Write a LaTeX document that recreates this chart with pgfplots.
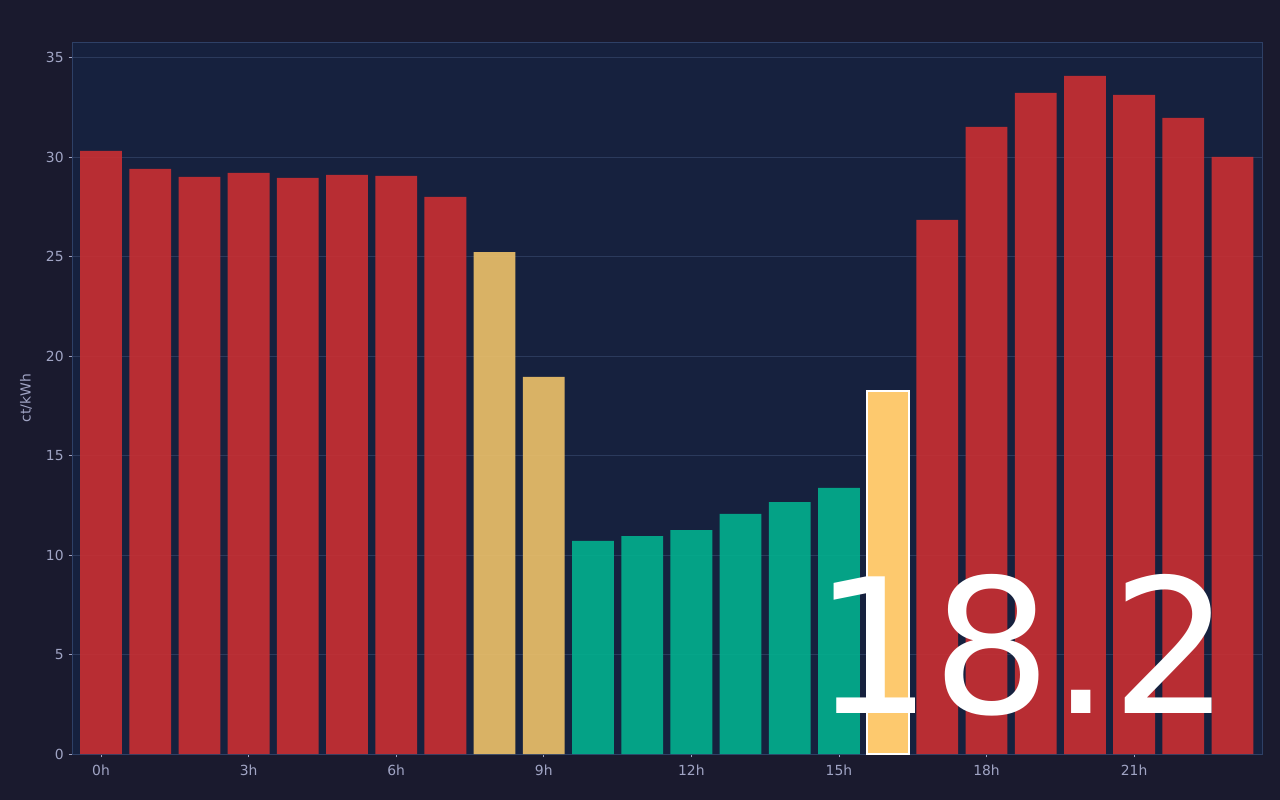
\documentclass[border=0pt]{standalone}
\usepackage{pgfplots}
\pgfplotsset{compat=1.18}
\usepackage{fontspec}
\setmainfont{DejaVu Sans}
\definecolor{outerbg}{HTML}{1A1A2E}
\definecolor{axbg}{HTML}{16213E}
\definecolor{spine}{HTML}{2E4066}
\definecolor{gridc}{HTML}{2B3A5C}
\definecolor{tickc}{HTML}{A0A4C4}
\definecolor{redb}{HTML}{CA2F32}
\definecolor{tealb}{HTML}{03B18E}
\definecolor{goldb}{HTML}{EFC26A}
\definecolor{hib}{HTML}{FDC96E}
\begin{document}
\begin{tikzpicture}
\fill[outerbg] (-51.84bp,-33.12bp) rectangle (869.76bp,542.88bp);
\begin{axis}[
  at={(0,0)}, anchor=south west,
  scale only axis, width=856.8bp, height=512.64bp,
  xmin=-0.59, xmax=23.6, ymin=0, ymax=35.8,
  axis background/.style={fill=axbg},
  axis line style={spine, line width=0.6bp},
  ymajorgrids, grid style={gridc, line width=0.6bp},
  xtick={0,3,...,21}, xticklabels={0h,3h,6h,9h,12h,15h,18h,21h},
  ytick={0,5,...,35},
  tick align=outside, tick pos=left,
  major tick length=2.5bp,
  tick style={tickc, line width=0.6bp},
  every tick label/.style={font=\fontsize{10bp}{12bp}\selectfont, text=tickc},
  /pgf/number format/assume math mode=true,
  xticklabel style={yshift=-2bp},
  ybar, bar width=0.85, bar shift=0pt,
  clip=false,
]
\addplot[fill=redb, fill opacity=0.9, draw=none] coordinates {
(0,30.32) (1,29.42) (2,29.02) (3,29.22) (4,28.97) (5,29.12) (6,29.07) (7,28.01)
(17,26.85) (18,31.53) (19,33.24) (20,34.09) (21,33.14) (22,31.98) (23,30.02)};
\addplot[fill=goldb, fill opacity=0.9, draw=none] coordinates {(8,25.24) (9,18.96)};
\addplot[fill=tealb, fill opacity=0.9, draw=none] coordinates {
(10,10.71) (11,10.96) (12,11.26) (13,12.07) (14,12.67) (15,13.38)};
\addplot[fill=hib, draw=white, line width=1.5bp] coordinates {(16,18.25)};
\node[anchor=base, text=white, font=\fontsize{135bp}{150bp}\selectfont, inner sep=0pt] at (rel axis cs:0.7985,0.0565) {18.2};
\end{axis}
\node[rotate=90, text=tickc, font=\fontsize{10bp}{12bp}\selectfont] at ([xshift=-33.12bp]current axis.west) {ct/kWh};
\end{tikzpicture}
\end{document}
